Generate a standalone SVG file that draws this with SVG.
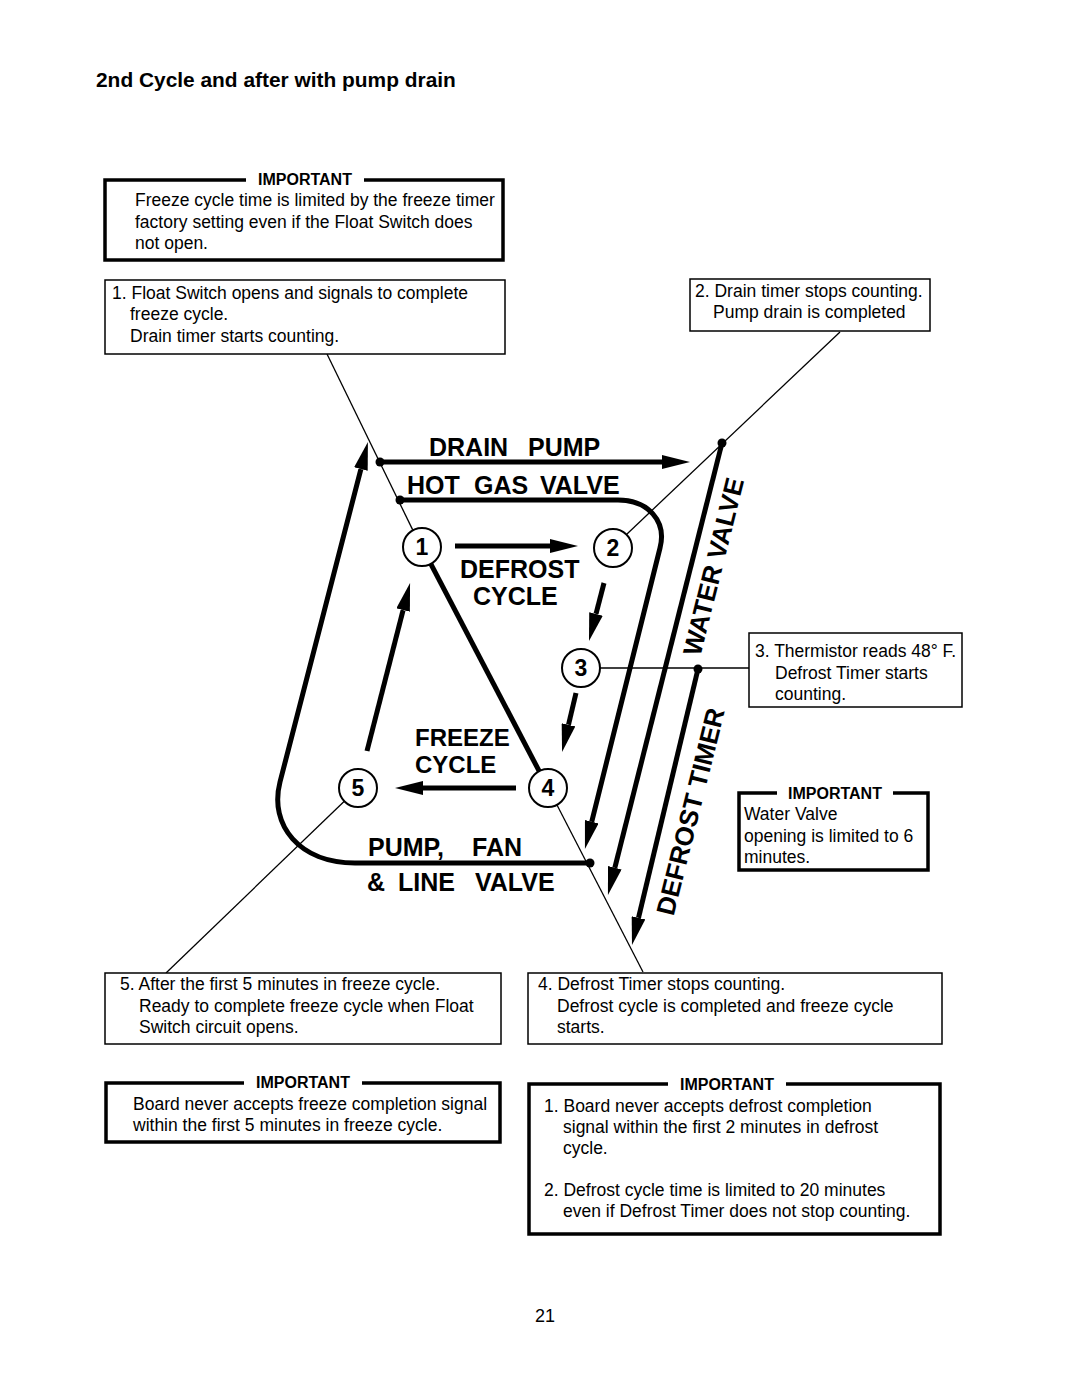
<svg xmlns="http://www.w3.org/2000/svg" width="1080" height="1397" viewBox="0 0 1080 1397">
<style>
.t{font-family:"Liberation Sans",Arial,sans-serif;font-size:17.5px;fill:#000}
.imp{font-family:"Liberation Sans",Arial,sans-serif;font-size:16px;font-weight:bold;fill:#000;text-anchor:middle}
.big{font-family:"Liberation Sans",Arial,sans-serif;font-size:25px;font-weight:bold;fill:#000}
.num{font-family:"Liberation Sans",Arial,sans-serif;font-size:23px;font-weight:bold;fill:#000;text-anchor:middle}
.box{fill:#fff;stroke:#000;stroke-width:1.5}
.ibox{fill:#fff;stroke:#000;stroke-width:3.5}
.gap{fill:#fff;stroke:none}
.thin{fill:none;stroke:#000;stroke-width:1.3}
.thick{fill:none;stroke:#000;stroke-width:5}
.arr{fill:none;stroke:#000;stroke-width:5;marker-end:url(#ah)}
.circ{fill:#fff;stroke:#000;stroke-width:2}
.dot{fill:#000}
</style>
<defs>
<marker id="ah" viewBox="0 -7 28 14" refX="0" refY="0" markerWidth="28" markerHeight="14" markerUnits="userSpaceOnUse" orient="auto">
<path d="M0,-7 L28,0 L0,7 z" fill="#000"/>
</marker>
</defs>
<rect width="1080" height="1397" fill="#fff"/>

<text x="96" y="87" style="font-family:'Liberation Sans',Arial,sans-serif;font-size:20.9px;font-weight:bold">2nd Cycle and after with pump drain</text>

<g id="connectors">
<line class="thin" x1="327" y1="354" x2="412.7" y2="529.9"/>
<line class="thin" x1="840" y1="332" x2="627" y2="534"/>
<line class="thin" x1="600" y1="668" x2="749" y2="668"/>
<line class="thin" x1="557" y1="805" x2="643" y2="972"/>
<line class="thin" x1="344.3" y1="801.2" x2="166" y2="973"/>
<path class="arr" d="M380,462 L662,462"/>
<path class="arr" d="M400,500 L618,500 C648,500 667,521 660,548 L591.7,821.8"/>
<path class="arr" d="M722,443 L614.8,867.8"/>
<path class="arr" d="M698,669 L638.5,917.8"/>
<path class="arr" d="M590,863 L355,863 C300,863 268.75,825.6 280,782 L360.9,469.1"/>
<path class="arr" d="M455,546 L550,546"/>
<path class="arr" d="M604,583 L596,613.9"/>
<path class="arr" d="M576,693 L568.5,724.8"/>
<path class="arr" d="M516,788 L423,788"/>
<path class="arr" d="M367,751 L403.1,610.1"/>
<line class="thick" x1="430.8" y1="563.8" x2="539.2" y2="771.2"/>
<circle class="dot" cx="380" cy="462" r="4.5"/>
<circle class="dot" cx="400" cy="500" r="4.5"/>
<circle class="dot" cx="722" cy="443" r="4.5"/>
<circle class="dot" cx="698" cy="669" r="4.5"/>
<circle class="dot" cx="590" cy="863" r="4.5"/>
</g>

<g id="labels">
<text class="big" y="456"><tspan x="429">DRAIN</tspan><tspan x="528">PUMP</tspan></text>
<text class="big" y="494"><tspan x="407">HOT</tspan><tspan x="474">GAS</tspan><tspan x="540">VALVE</tspan></text>
<text class="big" x="460" y="578">DEFROST</text>
<text class="big" x="473" y="605">CYCLE</text>
<text class="big" x="415" y="746" style="font-size:24px">FREEZE</text>
<text class="big" x="415" y="773" style="font-size:24px">CYCLE</text>
<text class="big" y="856"><tspan x="368">PUMP,</tspan><tspan x="472">FAN</tspan></text>
<text class="big" y="891"><tspan x="367">&amp;</tspan><tspan x="398">LINE</tspan><tspan x="475">VALVE</tspan></text>
<text class="big" text-anchor="middle" transform="translate(722.2,568.8) rotate(-76)" style="font-size:26px">WATER  VALVE</text>
<text class="big" text-anchor="middle" transform="translate(699.2,813.8) rotate(-76)" style="font-size:26px">DEFROST  TIMER</text>
</g>

<g id="node1"><circle class="circ" cx="422" cy="547" r="19"/><text class="num" x="422" y="555">1</text></g>
<g id="node2"><circle class="circ" cx="613" cy="548" r="19"/><text class="num" x="613" y="556">2</text></g>
<g id="node3"><circle class="circ" cx="581" cy="668" r="19"/><text class="num" x="581" y="676">3</text></g>
<g id="node4"><circle class="circ" cx="548" cy="788" r="19"/><text class="num" x="548" y="796">4</text></g>
<g id="node5"><circle class="circ" cx="358" cy="788" r="19"/><text class="num" x="358" y="796">5</text></g>

<g id="imp-top">
<rect class="ibox" x="105" y="180" width="398" height="80"/>
<rect class="gap" x="246" y="172" width="118" height="14"/>
<text class="imp" x="305" y="185">IMPORTANT</text>
<text class="t" x="135" y="206">Freeze cycle time is limited by the freeze timer</text>
<text class="t" x="135" y="228">factory setting even if the Float Switch does</text>
<text class="t" x="135" y="249">not open.</text>
</g>

<g id="box1">
<rect class="box" x="105" y="280" width="400" height="74"/>
<text class="t" x="112" y="299">1. Float Switch opens and signals to complete</text>
<text class="t" x="130" y="320">freeze cycle.</text>
<text class="t" x="130" y="342">Drain timer starts counting.</text>
</g>

<g id="box2">
<rect class="box" x="690" y="279" width="240" height="52"/>
<text class="t" x="695" y="297">2. Drain timer stops counting.</text>
<text class="t" x="713" y="318">Pump drain is completed</text>
</g>

<g id="box3">
<rect class="box" x="749" y="633" width="213" height="74"/>
<text class="t" x="755" y="657">3. Thermistor reads 48° F.</text>
<text class="t" x="775" y="679">Defrost Timer starts</text>
<text class="t" x="775" y="700">counting.</text>
</g>

<g id="imp-water">
<rect class="ibox" x="739" y="793" width="189" height="77"/>
<rect class="gap" x="777" y="786" width="116" height="14"/>
<text class="imp" x="835" y="799">IMPORTANT</text>
<text class="t" x="744" y="820">Water Valve</text>
<text class="t" x="744" y="842">opening is limited to 6</text>
<text class="t" x="744" y="863">minutes.</text>
</g>

<g id="box5">
<rect class="box" x="105" y="973" width="396" height="71"/>
<text class="t" x="120" y="990">5. After the first 5 minutes in freeze cycle.</text>
<text class="t" x="139" y="1012">Ready to complete freeze cycle when Float</text>
<text class="t" x="139" y="1033">Switch circuit opens.</text>
</g>

<g id="box4">
<rect class="box" x="528" y="973" width="414" height="71"/>
<text class="t" x="538" y="990">4. Defrost Timer stops counting.</text>
<text class="t" x="557" y="1012">Defrost cycle is completed and freeze cycle</text>
<text class="t" x="557" y="1033">starts.</text>
</g>

<g id="imp-freeze">
<rect class="ibox" x="106" y="1083" width="394" height="59"/>
<rect class="gap" x="244" y="1076" width="118" height="14"/>
<text class="imp" x="303" y="1088">IMPORTANT</text>
<text class="t" x="133" y="1110">Board never accepts freeze completion signal</text>
<text class="t" x="133" y="1131">within the first 5 minutes in freeze cycle.</text>
</g>

<g id="imp-defrost">
<rect class="ibox" x="529" y="1084" width="411" height="150"/>
<rect class="gap" x="668" y="1077" width="118" height="14"/>
<text class="imp" x="727" y="1090">IMPORTANT</text>
<text class="t" x="544" y="1112">1. Board never accepts defrost completion</text>
<text class="t" x="563" y="1133">signal within the first 2 minutes in defrost</text>
<text class="t" x="563" y="1154">cycle.</text>
<text class="t" x="544" y="1196">2. Defrost cycle time is limited to 20 minutes</text>
<text class="t" x="563" y="1217">even if Defrost Timer does not stop counting.</text>
</g>

<text x="545" y="1322" text-anchor="middle" style="font-family:'Liberation Sans',Arial,sans-serif;font-size:18px">21</text>
</svg>
